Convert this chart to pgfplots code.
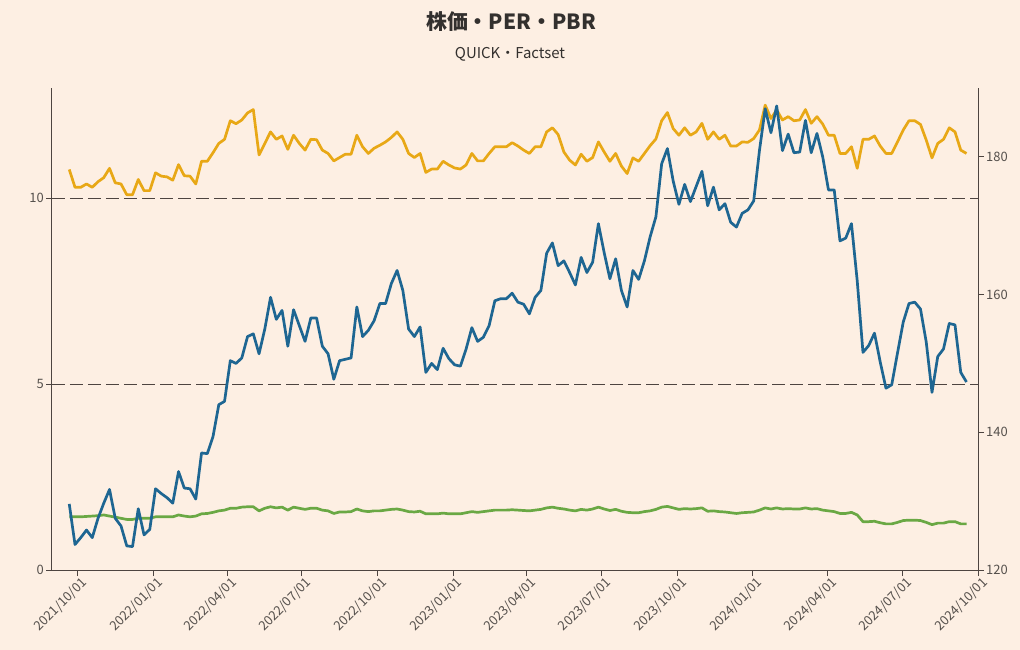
\documentclass[border=0pt]{standalone}
\usepackage{pgfplots}
\pgfplotsset{compat=1.18}
\usepackage{pgfplotstable}
\usepackage{fontspec}
\setmainfont{Noto Sans CJK JP}
\definecolor{bg}{RGB}{253,239,227}
\definecolor{axiscol}{RGB}{77,68,64}
\definecolor{labelcol}{RGB}{85,80,76}
\definecolor{titlecol}{RGB}{51,48,46}
\definecolor{sblue}{RGB}{30,102,146}
\definecolor{syellow}{RGB}{232,168,22}
\definecolor{sgreen}{RGB}{106,168,68}

\pgfplotstableread{
x per pbr price
-10 10.77 1.43 129.6
-3 10.29 1.43 123.7
4 10.29 1.43 124.7
11 10.38 1.44 125.8
18 10.29 1.45 124.7
25 10.44 1.46 127.5
32 10.55 1.48 129.7
39 10.80 1.45 131.7
46 10.41 1.42 127.5
53 10.38 1.39 126.4
60 10.09 1.36 123.5
67 10.09 1.36 123.4
74 10.50 1.39 128.9
81 10.20 1.39 125.1
88 10.20 1.39 125.9
95 10.68 1.43 131.8
102 10.59 1.43 131.1
109 10.57 1.43 130.5
116 10.48 1.43 129.7
123 10.90 1.48 134.3
130 10.60 1.45 131.9
137 10.59 1.43 131.8
144 10.38 1.45 130.3
151 10.99 1.51 137.0
158 10.99 1.52 136.9
165 11.22 1.55 139.4
172 11.47 1.59 144.0
179 11.58 1.61 144.5
186 12.08 1.66 150.4
193 12.00 1.66 150.0
200 12.10 1.69 150.8
207 12.29 1.70 153.9
214 12.38 1.70 154.3
221 11.16 1.59 151.4
228 11.47 1.66 155.0
235 11.78 1.70 159.6
242 11.58 1.67 156.4
249 11.67 1.69 157.7
256 11.31 1.61 152.5
263 11.69 1.69 157.8
270 11.47 1.66 155.5
277 11.29 1.63 153.2
284 11.58 1.66 156.6
291 11.57 1.66 156.6
298 11.29 1.61 152.5
305 11.20 1.59 151.4
312 11.00 1.52 147.7
319 11.09 1.56 150.4
326 11.18 1.56 150.6
333 11.18 1.57 150.8
340 11.69 1.64 158.2
347 11.38 1.59 153.9
354 11.20 1.57 154.8
361 11.34 1.59 156.2
368 11.42 1.59 158.7
375 11.51 1.61 158.7
382 11.63 1.63 161.6
389 11.78 1.64 163.5
396 11.58 1.61 160.6
403 11.20 1.57 155.0
410 11.09 1.56 153.9
417 11.20 1.58 155.3
424 10.69 1.51 148.7
431 10.78 1.51 150.0
438 10.78 1.51 149.1
445 10.99 1.53 152.2
452 10.89 1.51 150.7
459 10.81 1.51 149.8
466 10.78 1.51 149.6
473 10.89 1.54 152.1
480 11.20 1.57 155.2
487 11.00 1.55 153.2
494 11.00 1.57 153.8
501 11.20 1.59 155.5
508 11.38 1.61 159.1
515 11.38 1.61 159.4
522 11.38 1.61 159.4
529 11.49 1.62 160.2
536 11.40 1.61 158.9
543 11.29 1.60 158.6
550 11.20 1.59 157.2
557 11.38 1.61 159.6
564 11.38 1.63 160.6
571 11.78 1.67 166.0
578 11.89 1.69 167.5
585 11.71 1.66 164.2
592 11.24 1.64 164.9
599 11.02 1.61 163.2
606 10.89 1.59 161.4
613 11.18 1.63 165.4
620 10.99 1.61 163.2
627 11.09 1.64 164.7
634 11.51 1.69 170.3
641 11.24 1.64 166.1
648 10.99 1.60 162.3
655 11.20 1.63 165.2
662 10.86 1.58 160.6
669 10.66 1.55 158.2
676 11.08 1.54 163.5
683 10.99 1.54 162.2
690 11.20 1.57 164.9
697 11.41 1.59 168.4
704 11.59 1.63 171.3
711 12.08 1.69 179.0
718 12.30 1.71 181.2
725 11.87 1.67 176.5
732 11.69 1.63 173.1
739 11.89 1.65 176.0
746 11.69 1.64 173.5
753 11.78 1.65 175.7
760 12.01 1.67 177.9
767 11.58 1.58 172.9
774 11.78 1.59 175.6
781 11.58 1.57 172.3
788 11.69 1.56 173.2
795 11.40 1.54 170.5
802 11.40 1.52 169.8
809 11.51 1.54 171.8
816 11.50 1.55 172.3
823 11.60 1.56 173.6
830 11.83 1.61 180.9
837 12.50 1.67 187.0
844 12.14 1.64 183.5
851 12.37 1.67 187.4
858 12.10 1.64 180.9
865 12.19 1.65 183.3
872 12.08 1.64 180.6
879 12.10 1.64 180.7
886 12.38 1.67 185.3
893 12.01 1.64 180.6
900 12.19 1.65 183.4
907 11.99 1.61 180.0
914 11.69 1.59 175.2
921 11.69 1.57 175.2
928 11.20 1.52 167.8
935 11.20 1.52 168.2
942 11.38 1.55 170.3
949 10.80 1.48 162.0
956 11.58 1.30 151.6
963 11.58 1.30 152.6
970 11.67 1.31 154.4
977 11.40 1.27 150.2
984 11.20 1.24 146.4
991 11.20 1.24 146.9
998 11.51 1.28 151.5
1005 11.83 1.33 156.0
1012 12.08 1.34 158.7
1019 12.08 1.34 158.9
1026 11.98 1.33 157.9
1033 11.56 1.28 153.1
1040 11.08 1.22 145.8
1047 11.47 1.26 151.0
1054 11.58 1.26 152.1
1061 11.89 1.30 155.8
1068 11.78 1.30 155.6
1075 11.29 1.24 148.7
1082 11.20 1.24 147.3
}\data

\pgfplotsset{
  common/.style={
    at={(0bp,0bp)}, anchor=south west,
    scale only axis, width=926bp, height=482bp,
    xmin=-31, xmax=1096,
    tick align=outside, major tick length=6bp,
    axis line style={axiscol, line width=1bp},
    every tick/.style={axiscol, line width=0.9bp},
    tick label style={font=\fontsize{13}{15}\selectfont, text=labelcol},
    /pgf/number format/assume math mode=true,
  }
}

\begin{document}
\begin{tikzpicture}
\path[use as bounding box, fill=bg] (-52bp,-80bp) rectangle (968bp,570bp);
\node[font=\bfseries\fontsize{21}{25}\selectfont, text=titlecol] at (459bp,548bp) {株価・PER・PBR};
\node[font=\fontsize{15}{18}\selectfont, text=titlecol] at (458bp,516bp) {QUICK・Factset};
\begin{axis}[common,
  ymin=0, ymax=12.96,
  axis x line*=bottom, axis y line*=left,
  xtick={0,92,182,273,365,457,547,638,730,822,913,1004,1096},
  xticklabels={2021/10/01,2022/01/01,2022/04/01,2022/07/01,2022/10/01,2023/01/01,2023/04/01,2023/07/01,2023/10/01,2024/01/01,2024/04/01,2024/07/01,2024/10/01},
  x tick label style={rotate=45, anchor=north east, inner sep=1bp, xshift=3bp, yshift=-1bp},
  ytick={0,5,10},
  y tick label style={inner sep=2bp},
]
\draw[axiscol, line width=0.9bp, dash pattern=on 13bp off 5bp] (axis cs:-31,5) -- (axis cs:1096,5);
\draw[axiscol, line width=0.9bp, dash pattern=on 13bp off 5bp] (axis cs:-31,10) -- (axis cs:1096,10);
\addplot[syellow, line width=2.7bp, line join=round] table[x=x, y=per] {\data};
\addplot[sgreen, line width=2.7bp, line join=round] table[x=x, y=pbr] {\data};
\end{axis}
\begin{axis}[common,
  ymin=120, ymax=190,
  axis x line=none, axis y line*=right,
  ytick={120,140,160,180},
  y tick label style={inner sep=2bp},
]
\addplot[sblue, line width=2.7bp, line join=round] table[x=x, y=price] {\data};
\end{axis}
\end{tikzpicture}
\end{document}
